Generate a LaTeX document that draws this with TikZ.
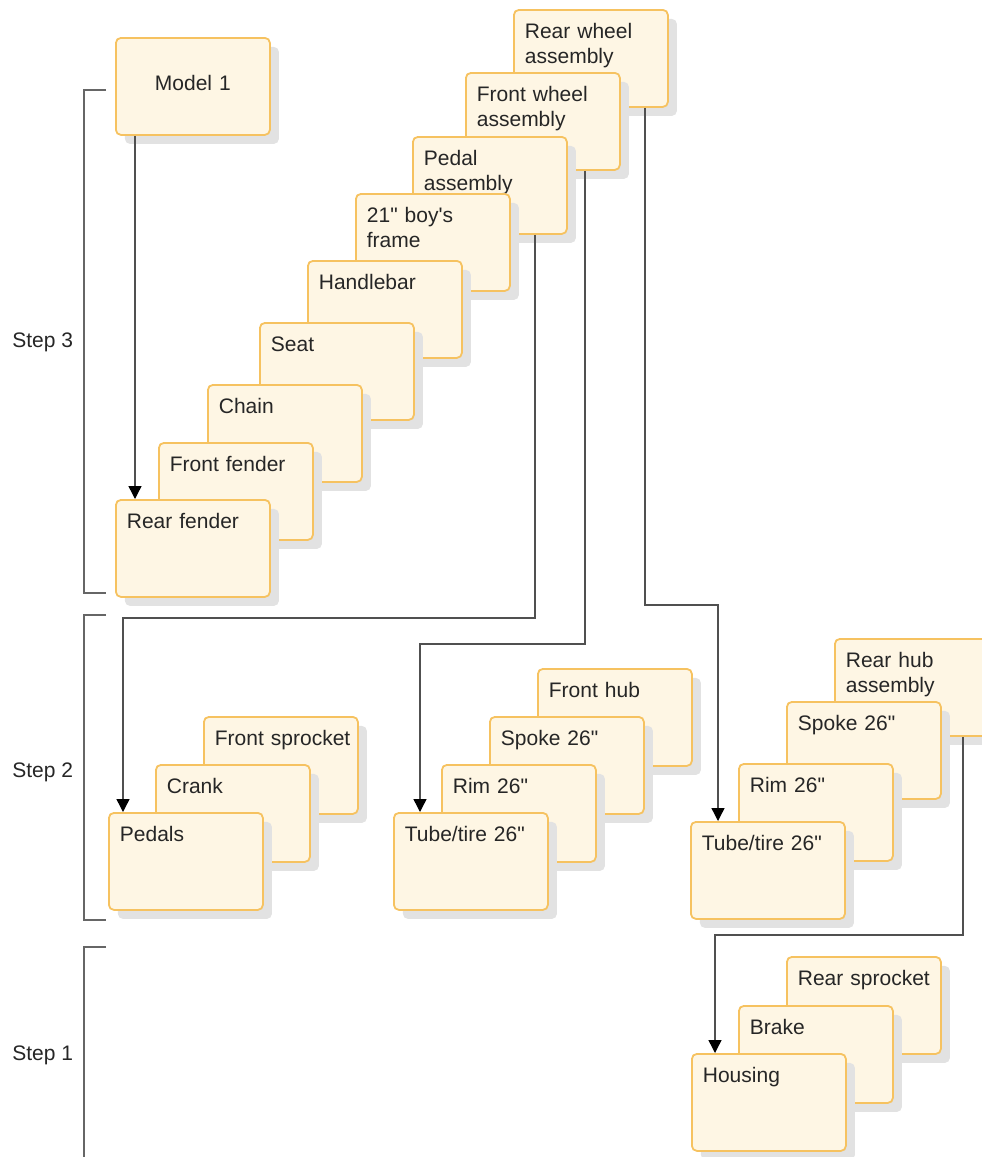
\documentclass[tikz,border=0pt]{standalone}
\usepackage{fontspec}
\newfontfamily\partfont{Liberation Sans}
\usepackage{xcolor}
\usetikzlibrary{arrows.meta, shadows}
\definecolor{partfill}{HTML}{FEF6E4}
\definecolor{partline}{HTML}{F6C260}
\definecolor{partshadow}{HTML}{E2E2E2}
\definecolor{linkgrey}{HTML}{505050}

\begin{document}
\begin{tikzpicture}[x=0.5pt, y=-0.5pt,
  part/.style={draw=partline, fill=partfill, line width=0.9pt, rounded corners=2.5pt,
               anchor=north west, minimum width=77pt, text width=66pt,
               inner xsep=5.5pt, inner ysep=0pt, text height=14.5pt, text depth=34pt,
               align=left, font=\partfont\fontsize{10.5}{12.5}\selectfont, text=black!85,
               drop shadow={shadow xshift=4.5pt, shadow yshift=-4.5pt, fill=partshadow, opacity=1}},
  model/.style={part, align=center, text height=26.5pt, text depth=22pt},
  steplabel/.style={anchor=base west, inner sep=0pt,
                    font=\partfont\fontsize{10.5}{12.5}\selectfont, text=black!85},
  bracket/.style={draw=black!60, line width=1pt},
  link/.style={draw=linkgrey, line width=0.7pt, -{Triangle[width=6.5pt, length=6.5pt, color=black]}}
]
  \useasboundingbox (0,0) rectangle (981,1157);

  \node[steplabel] (step3) at (12,347) {Step 3};
  \node[steplabel] (step2) at (12,777) {Step 2};
  \node[steplabel] (step1) at (12,1060) {Step 1};
  \draw[bracket] (106,90) -- (84,90) -- (84,593) -- (106,593);
  \draw[bracket] (106,615) -- (84,615) -- (84,920) -- (106,920);
  \draw[bracket] (106,947) -- (84,947) -- (84,1157);

  \node[part] (rearwheel) at (513,9) {Rear wheel\\assembly};
  \node[part] (frontwheel) at (465,72) {Front wheel\\assembly};
  \node[part] (pedalasm) at (412,136) {Pedal\\assembly};
  \node[part] (frame) at (355,193) {21" boy's\\frame};
  \node[part] (handlebar) at (307,260) {Handlebar};
  \node[part] (seat) at (259,322) {Seat};
  \node[part] (chain) at (207,384) {Chain};
  \node[part] (frontfender) at (158,442) {Front fender};
  \node[part] (rearfender) at (115,499) {Rear fender};
  \node[model] (model) at (115,37) {Model 1};

  \node[part] (frontsprocket) at (203,716) {Front~sprocket};
  \node[part] (crank) at (155,764) {Crank};
  \node[part] (pedals) at (108,812) {Pedals};

  \node[part] (fronthub) at (537,668) {Front hub};
  \node[part] (frontspoke) at (489,716) {Spoke 26"};
  \node[part] (frontrim) at (441,764) {Rim 26"};
  \node[part] (fronttire) at (393,812) {Tube/tire 26"};

  \node[part] (rearhub) at (834,638) {Rear hub\\assembly};
  \node[part] (rearspoke) at (786,701) {Spoke 26"};
  \node[part] (rearrim) at (738,763) {Rim 26"};
  \node[part] (reartire) at (690,821) {Tube/tire 26"};

  \node[part] (rearsprocket) at (786,956) {Rear~sprocket};
  \node[part] (brake) at (738,1005) {Brake};
  \node[part] (housing) at (691,1053) {Housing};

  \draw[link] ([xshift=10pt]model.south west) -- ([xshift=10pt]rearfender.north west);
  \draw[link] ([xshift=-16.5pt]pedalasm.south east) -- ++(0,383) -| ([xshift=7.5pt]pedals.north west);
  \draw[link] ([xshift=-18pt]frontwheel.south east) -- ++(0,473) -| ([xshift=13.5pt]fronttire.north west);
  \draw[link] ([xshift=-12pt]rearwheel.south east) -- ++(0,497) -| ([xshift=14pt]reartire.north west);
  \draw[link] ([xshift=64.5pt]rearhub.south west) -- ++(0,198) -| ([xshift=12pt]housing.north west);
\end{tikzpicture}
\end{document}
